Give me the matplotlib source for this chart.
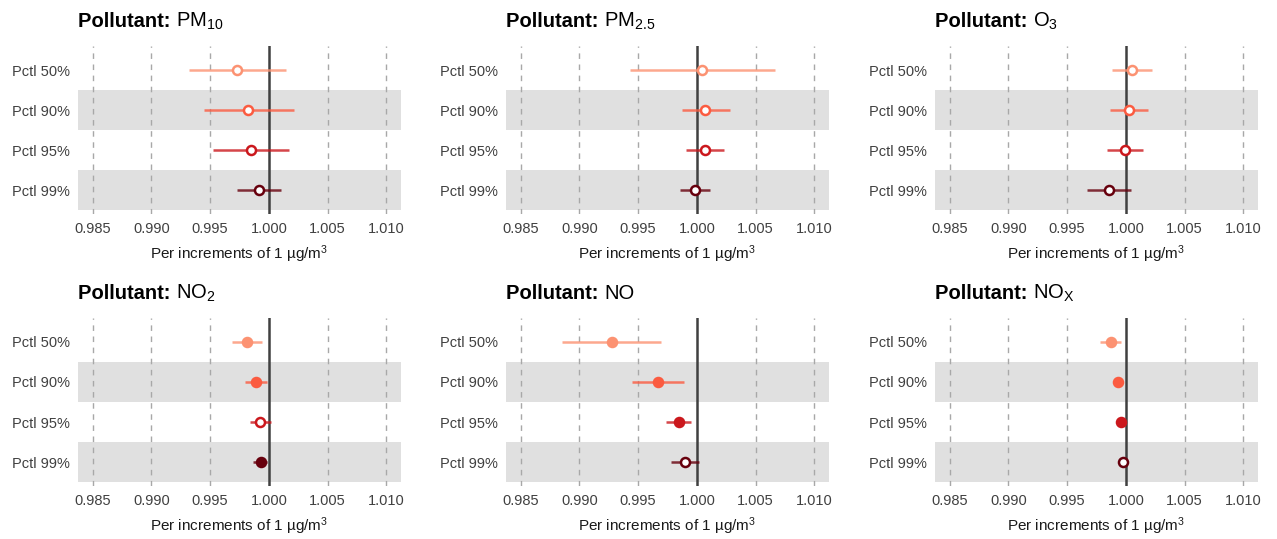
import numpy as np
import matplotlib
matplotlib.use("Agg")
import matplotlib.pyplot as plt
from matplotlib.transforms import offset_copy

plt.rcParams['font.family'] = ['Liberation Sans', 'DejaVu Sans']
plt.rcParams['mathtext.fontset'] = 'custom'
plt.rcParams['mathtext.rm'] = 'Liberation Sans'
plt.rcParams['mathtext.it'] = 'Liberation Sans:italic'
plt.rcParams['mathtext.bf'] = 'Liberation Sans:bold'

# percentile rows, top to bottom
pctl_labels = ['Pctl 50%', 'Pctl 90%', 'Pctl 95%', 'Pctl 99%']
pollutants = [r'PM$_\mathrm{10}$', r'PM$_\mathrm{2.5}$', r'O$_\mathrm{3}$',
              r'NO$_\mathrm{2}$', 'NO', r'NO$_\mathrm{X}$']

# point estimates, lower and upper bounds (one list per pollutant)
est = {
    'PM10':  [0.99726, 0.99825, 0.99850, 0.99913],
    'PM2.5': [1.00046, 1.00071, 1.00071, 0.99980],
    'O3':    [1.00055, 1.00026, 0.99989, 0.99854],
    'NO2':   [0.99815, 0.99892, 0.99928, 0.99932],
    'NO':    [0.99275, 0.99668, 0.99844, 0.99895],
    'NOX':   [0.99870, 0.99932, 0.99955, 0.99972],
}
lower = {
    'PM10':  [0.99316, 0.99449, 0.99528, 0.99732],
    'PM2.5': [0.99428, 0.99870, 0.99910, 0.99859],
    'O3':    [0.99884, 0.99863, 0.99841, 0.99670],
    'NO2':   [0.99690, 0.99798, 0.99838, 0.99866],
    'NO':    [0.98856, 0.99447, 0.99740, 0.99776],
    'NOX':   [0.99778, 0.99892, 0.99921, 0.99943],
}
upper = {
    'PM10':  [1.00144, 1.00212, 1.00172, 1.00102],
    'PM2.5': [1.00669, 1.00278, 1.00235, 1.00114],
    'O3':    [1.00226, 1.00188, 1.00143, 1.00046],
    'NO2':   [0.99943, 0.99988, 1.00022, 0.99988],
    'NO':    [0.99697, 0.99889, 0.99952, 1.00017],
    'NOX':   [0.99955, 0.99972, 0.99994, 0.99991],
}
# significant estimates get a filled point
signif = {
    'PM10':  [False, False, False, False],
    'PM2.5': [False, False, False, False],
    'O3':    [False, False, False, False],
    'NO2':   [True, True, False, True],
    'NO':    [True, True, True, False],
    'NOX':   [True, True, True, False],
}
xticks = [0.985, 0.990, 0.995, 1.000, 1.005, 1.010]

colors = ['#FC9272', '#FB5B40', '#CB181D', '#67000D']

W, H = 1277, 539
fig = plt.figure(figsize=(W / 100, H / 100), dpi=100)
renderer = fig.canvas.get_renderer()

col_x = [78, 506, 935]
row_y = [46, 318]
aw, ah = 323, 168

keys = list(est.keys())
for k, key in enumerate(keys):
    r, c = divmod(k, 3)
    ax = fig.add_axes([col_x[c] / W, 1 - (row_y[r] + ah) / H, aw / W, ah / H])
    ypos = np.arange(1, 5)

    # alternating grey bands
    for yb in (2, 4):
        ax.axhspan(yb - 0.5, yb + 0.5, color='#E0E0E0', lw=0, zorder=0)

    for xt in xticks:
        if xt != 1.0:
            ax.axvline(xt, color='#A8A8A8', lw=1, ls=(0, (4, 4)), zorder=1)
    ax.axvline(1.0, color='#404040', lw=1.8, zorder=2)

    for i in range(4):
        ax.plot([lower[key][i], upper[key][i]], [ypos[i], ypos[i]],
                color=colors[i], lw=1.8, alpha=0.8, solid_capstyle='butt', zorder=3)
        face = colors[i] if signif[key][i] else 'white'
        ax.plot(est[key][i], ypos[i], 'o', ms=6.5, mfc=face, mec=colors[i],
                mew=1.8, zorder=4)

    ax.set_xlim(0.98375, 1.01125)
    ax.set_ylim(4.6, 0.4)
    ax.set_xticks(xticks)
    ax.set_xticklabels(['%.3f' % v for v in xticks])
    ax.set_yticks(ypos)
    ax.set_yticklabels(pctl_labels)
    ax.tick_params(length=0, labelsize=10.5, labelcolor='#404040')
    ax.tick_params(axis='x', pad=6)
    ax.tick_params(axis='y', pad=6)
    for s in ax.spines.values():
        s.set_visible(False)
    ax.set_xlabel('Per increments of 1 µg/m$^\\mathrm{3}$', fontsize=11,
                  labelpad=5, color='#1A1A1A')

    # title: bold prefix followed by normal-weight pollutant name, same baseline
    ty = 1 + 19 / ah
    t1 = ax.text(0, ty, 'Pollutant: ', transform=ax.transAxes, fontsize=14.5,
                 fontweight='bold', ha='left', va='baseline')
    w1 = t1.get_window_extent(renderer=renderer).width
    ax.text(0, ty, pollutants[k], fontsize=14.5, ha='left', va='baseline',
            transform=offset_copy(ax.transAxes, fig=fig, x=w1, y=0, units='dots'))

fig.savefig('out.png', dpi=100)
